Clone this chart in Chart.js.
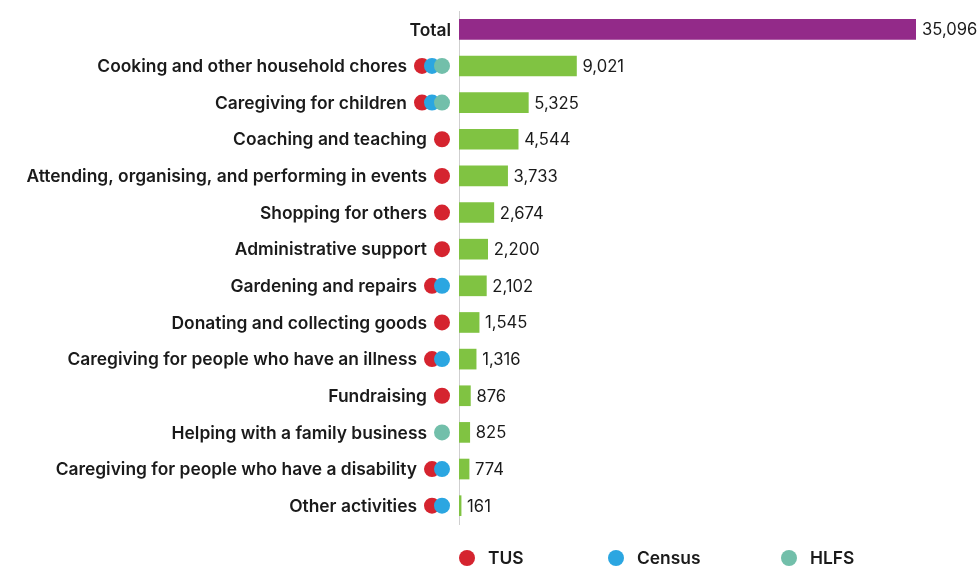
<!DOCTYPE html>
<html lang="en">
<head>
  <meta charset="UTF-8" />
  <title>Volunteering activities</title>
  <script src="https://cdn.jsdelivr.net/npm/chart.js"></script>
  <style>
    html, body { margin: 0; padding: 0; background: #fff; }
    #wrap { width: 979px; height: 567px; position: relative; }
  </style>
</head>
<body>
  <div id="wrap"><canvas id="chart"></canvas></div>

  <script>
    const categories = [
      "Total",
      "Cooking and other household chores",
      "Caregiving for children",
      "Coaching and teaching",
      "Attending, organising, and performing in events",
      "Shopping for others",
      "Administrative support",
      "Gardening and repairs",
      "Donating and collecting goods",
      "Caregiving for people who have an illness",
      "Fundraising",
      "Helping with a family business",
      "Caregiving for people who have a disability",
      "Other activities"
    ];
    const values = [35096, 9021, 5325, 4544, 3733, 2674, 2200, 2102, 1545, 1316, 876, 825, 774, 161];
    const sources = [
      [],
      ["TUS", "Census", "HLFS"],
      ["TUS", "Census", "HLFS"],
      ["TUS"],
      ["TUS"],
      ["TUS"],
      ["TUS"],
      ["TUS", "Census"],
      ["TUS"],
      ["TUS", "Census"],
      ["TUS"],
      ["HLFS"],
      ["TUS", "Census"],
      ["TUS", "Census"]
    ];
    const sourceNames = ["TUS", "Census", "HLFS"];
    const sourceColors = { TUS: "#d5242f", Census: "#2ba6e1", HLFS: "#72bfaa" };

    const FONT = '"Inter", "Roboto", sans-serif';

    const decorations = {
      id: "decorations",
      afterDraw(chart) {
        const ctx = chart.ctx;
        const x = chart.scales.x;
        const y = chart.scales.y;
        const left = chart.chartArea.left;
        ctx.save();
        ctx.textBaseline = "middle";
        categories.forEach((cat, i) => {
          const py = y.getPixelForValue(i);
          const src = sources[i];
          // source dots
          const lastX = left - 17;
          src.forEach((s, j) => {
            const cx = lastX - (src.length - 1 - j) * 10;
            ctx.beginPath();
            ctx.arc(cx, py, 8, 0, Math.PI * 2);
            ctx.fillStyle = sourceColors[s];
            ctx.fill();
          });
          // category label
          let tx = left - 8;
          if (src.length) tx = lastX - (src.length - 1) * 10 - 15;
          ctx.font = "600 17.4px " + FONT;
          ctx.fillStyle = "#1a1a1a";
          ctx.textAlign = "right";
          ctx.fillText(cat, tx, py + 1);
          // value label
          ctx.font = "400 16.6px " + FONT;
          ctx.textAlign = "left";
          ctx.fillText(values[i].toLocaleString("en-US"), x.getPixelForValue(values[i]) + 6, py + 1);
        });
        // legend
        const legendX = [467, 616, 789];
        const ly = 558;
        sourceNames.forEach((s, k) => {
          ctx.beginPath();
          ctx.arc(legendX[k], ly, 8, 0, Math.PI * 2);
          ctx.fillStyle = sourceColors[s];
          ctx.fill();
          ctx.font = "600 17.4px " + FONT;
          ctx.fillStyle = "#1a1a1a";
          ctx.textAlign = "left";
          ctx.fillText(s, legendX[k] + 21, ly + 1);
        });
        ctx.restore();
      }
    };

    new Chart(document.getElementById("chart"), {
      type: "bar",
      data: {
        labels: categories,
        datasets: [{
          data: values,
          backgroundColor: values.map((v, i) => i === 0 ? "#932a89" : "#80c342"),
          barThickness: 20
        }]
      },
      options: {
        indexAxis: "y",
        responsive: true,
        maintainAspectRatio: false,
        animation: false,
        layout: { padding: { left: 458, right: 63, top: 11, bottom: 43 } },
        plugins: { legend: { display: false }, tooltip: { enabled: false } },
        scales: {
          x: { display: false, min: 0, max: 35096 },
          y: {
            ticks: { display: false },
            grid: { display: false, drawTicks: false },
            border: { display: true, color: "#cfcfcf", width: 1 },
            afterFit(s) { s.width = 1; }
          }
        }
      },
      plugins: [decorations]
    });
  </script>
</body>
</html>
